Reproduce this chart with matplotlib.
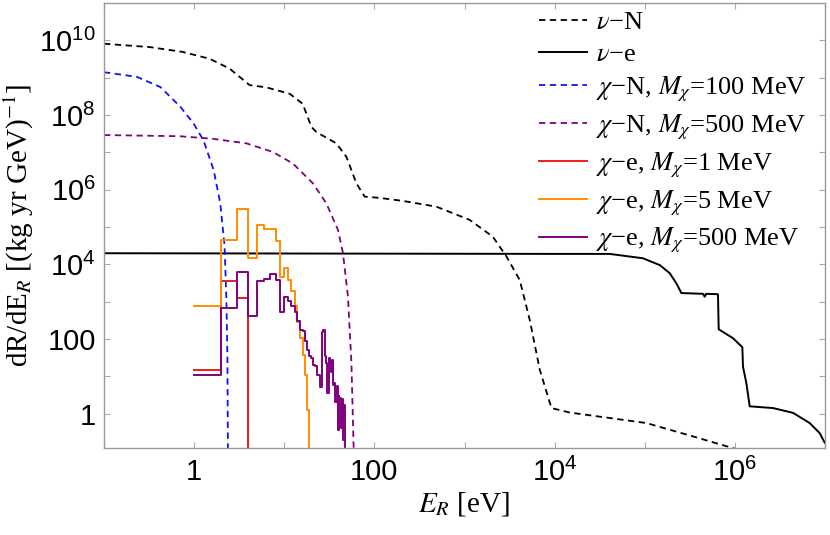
import matplotlib
matplotlib.use('Agg')
import matplotlib.pyplot as plt
from matplotlib.ticker import FixedLocator, FixedFormatter, NullFormatter

plt.rcParams['mathtext.fontset'] = 'custom'
plt.rcParams['mathtext.rm'] = 'Liberation Sans'
plt.rcParams['mathtext.it'] = 'Liberation Sans:italic'

# nu-N (black dashed)
nuN_E = [0.1, 0.32, 0.745, 1.49, 2.48, 4.13, 6.33, 11.5, 16.0, 20.0, 22.7, 37.8, 48.9,
         63.1, 78.0, 115, 206, 488, 1140, 2060, 2920, 4100, 5300, 6840, 9220, 1.47e4,
         1.04e5, 3.44e5, 1.0e6]
nuN_R = [8.1e9, 6.6e9, 4.9e9, 3.2e9, 1.74e9, 6.3e8, 5.5e8, 3.7e8, 2.0e8, 4.8e7, 3.5e7,
         1.74e7, 7.6e6, 1.48e6, 6.5e5, 6.0e5, 5.0e5, 3.5e5, 1.55e5, 5.5e4, 1.62e4, 3800,
         320, 15, 1.41, 1.07, 0.56, 0.245, 0.115]

# nu-e (black solid)
nue_E = [0.1, 1.14e4, 4.08e4, 9.57e4, 1.47e5, 1.89e5, 2.24e5, 2.55e5, 4.43e5, 4.62e5,
         4.80e5, 6.49e5, 6.61e5, 9.52e5, 1.21e6, 1.23e6, 1.34e6, 1.46e6, 2.65e6, 4.42e6,
         6.76e6, 8.73e6, 9.93e6]
nue_R = [1.98e4, 1.9e4, 1.9e4, 1.45e4, 9.5e3, 5.8e3, 3.1e3, 1.7e3, 1.62e3, 1.35e3,
         1.62e3, 1.58e3, 182, 105, 60, 18, 6.6, 1.57, 1.41, 1.05, 0.56, 0.30, 0.166]

# chi-N, M=100 MeV (blue dashed)
chiN100_E = [0.1, 0.232, 0.422, 0.703, 0.987, 1.27, 1.65, 1.95, 2.18, 2.28, 2.34, 2.37]
chiN100_R = [1.4e9, 1.05e9, 5.6e8, 1.66e8, 5.9e7, 2.1e7, 3.3e6, 4.3e5, 3.0e4, 1.1e3, 34, 0.115]

# chi-N, M=500 MeV (purple dashed)
chiN500_E = [0.1, 0.69, 1.62, 3.80, 7.49, 12.5, 20.8, 29.3, 39.5, 44.8, 50.9, 55.6, 58.9]
chiN500_R = [2.9e7, 2.7e7, 2.3e7, 1.74e7, 1.02e7, 5.0e6, 1.48e6, 4.3e5, 8.3e4, 2.0e4,
             1380, 23, 0.115]

# chi-e histograms: bin edges in eV, rate in each bin (last 0 = end of spectrum)
chie1_edges = [1, 2, 3, 4]
chie1_R = [14.4, 3600, 1290, 0]

chie5_edges = list(range(1, 20))
chie5_R = [773, 4.4e4, 3.0e5, 1.44e4, 1.13e5, 8.7e4, 8.7e4, 4.2e4, 4.6e3, 7.8e3, 3.8e3,
           1.95e3, 773, 290, 108, 38, 11, 1.28, 0]

chie500_edges = list(range(1, 48))
chie500_R = [10.8, 670, 6380, 400, 3660, 4000, 5430, 3830, 544, 1370, 1050, 773, 534,
             307, 176, 166, 90, 51, 35.5, 31, 20.5, 19.2, 11, 11, 5.3, 156, 176, 35.5,
             23, 3.6, 31, 24.5, 13.3, 27.8, 6.0, 6.7, 2.0, 5.6, 0.37, 3.0, 2.4, 2.7,
             0.42, 2.4, 0.2, 1.7, 0]

labels = [r'$\nu$−N', r'$\nu$−e',
          r'$\chi$−N, $M_\chi$=100 MeV', r'$\chi$−N, $M_\chi$=500 MeV',
          r'$\chi$−e, $M_\chi$=1 MeV', r'$\chi$−e, $M_\chi$=5 MeV',
          r'$\chi$−e, $M_\chi$=500 MeV']

xmajor = [1, 100, 1e4, 1e6]
xmajor_lbl = ['1', '100', r'$10^4$', r'$10^6$']
xminor = [0.1, 10, 1e3, 1e5, 1e7]
ymajor = [1, 100, 1e4, 1e6, 1e8, 1e10]
ymajor_lbl = ['1', '100', r'$10^4$', r'$10^6$', r'$10^8$', r'$10^{10}$']
yminor = [10, 1e3, 1e5, 1e7, 1e9]

purple = '#800080'
orange = '#ff8c00'
red = '#ee1c1c'
blue = '#1010ff'

fig = plt.figure(figsize=(8.3, 5.35), dpi=100)
ax = fig.add_axes([0.1253, 0.1626, 0.8687, 0.8318])
ax.set_xscale('log')
ax.set_yscale('log')

ax.plot(nuN_E, nuN_R, color='black', ls=(0, (3.5, 2.5)), lw=1.3, label=labels[0])
ax.plot(nue_E, nue_R, color='black', lw=1.4, label=labels[1])
ax.plot(chiN100_E, chiN100_R, color=blue, ls=(0, (3.5, 2.5)), lw=1.3, label=labels[2])
ax.plot(chiN500_E, chiN500_R, color=purple, ls=(0, (3.5, 2.5)), lw=1.3, label=labels[3])
ax.plot(chie1_edges, chie1_R, color=red, lw=1.4, drawstyle='steps-post', label=labels[4])
ax.plot(chie5_edges, chie5_R, color=orange, lw=1.4, drawstyle='steps-post', label=labels[5])
ax.plot(chie500_edges, chie500_R, color=purple, lw=1.4, drawstyle='steps-post', label=labels[6])

ax.set_xlim(0.1, 1e7)
ax.set_ylim(0.12, 1e11)

ax.xaxis.set_major_locator(FixedLocator(xmajor))
ax.xaxis.set_major_formatter(FixedFormatter(xmajor_lbl))
ax.xaxis.set_minor_locator(FixedLocator(xminor))
ax.xaxis.set_minor_formatter(NullFormatter())
ax.yaxis.set_major_locator(FixedLocator(ymajor))
ax.yaxis.set_major_formatter(FixedFormatter(ymajor_lbl))
ax.yaxis.set_minor_locator(FixedLocator(yminor))
ax.yaxis.set_minor_formatter(NullFormatter())

for s in ax.spines.values():
    s.set_color('#999999')
    s.set_linewidth(1.0)
ax.tick_params(which='both', direction='in', top=True, right=True, length=4,
               width=0.8, color='#aaaaaa', labelsize=21)
ax.tick_params(axis='x', pad=7)
ax.tick_params(axis='y', pad=6)
for t in ax.get_xticklabels() + ax.get_yticklabels():
    t.set_fontfamily('Liberation Sans')

ax.set_xlabel(r'$E_R$ [eV]', fontsize=21, family='Liberation Serif',
              math_fontfamily='stix', labelpad=2)
ax.set_ylabel(r'dR/dE$_R$ [(kg yr GeV)$^{-1}$]', fontsize=21, family='Liberation Serif',
              math_fontfamily='stix', labelpad=2)

leg = ax.legend(loc='upper right', bbox_to_anchor=(1.0, 1.024), frameon=False,
                prop={'family': 'Liberation Serif', 'size': 19},
                handlelength=1.8, handletextpad=0.35, labelspacing=0.32,
                borderaxespad=0.3)
for t in leg.get_texts():
    t.set_math_fontfamily('stix')

fig.savefig('out.png', dpi=100)
